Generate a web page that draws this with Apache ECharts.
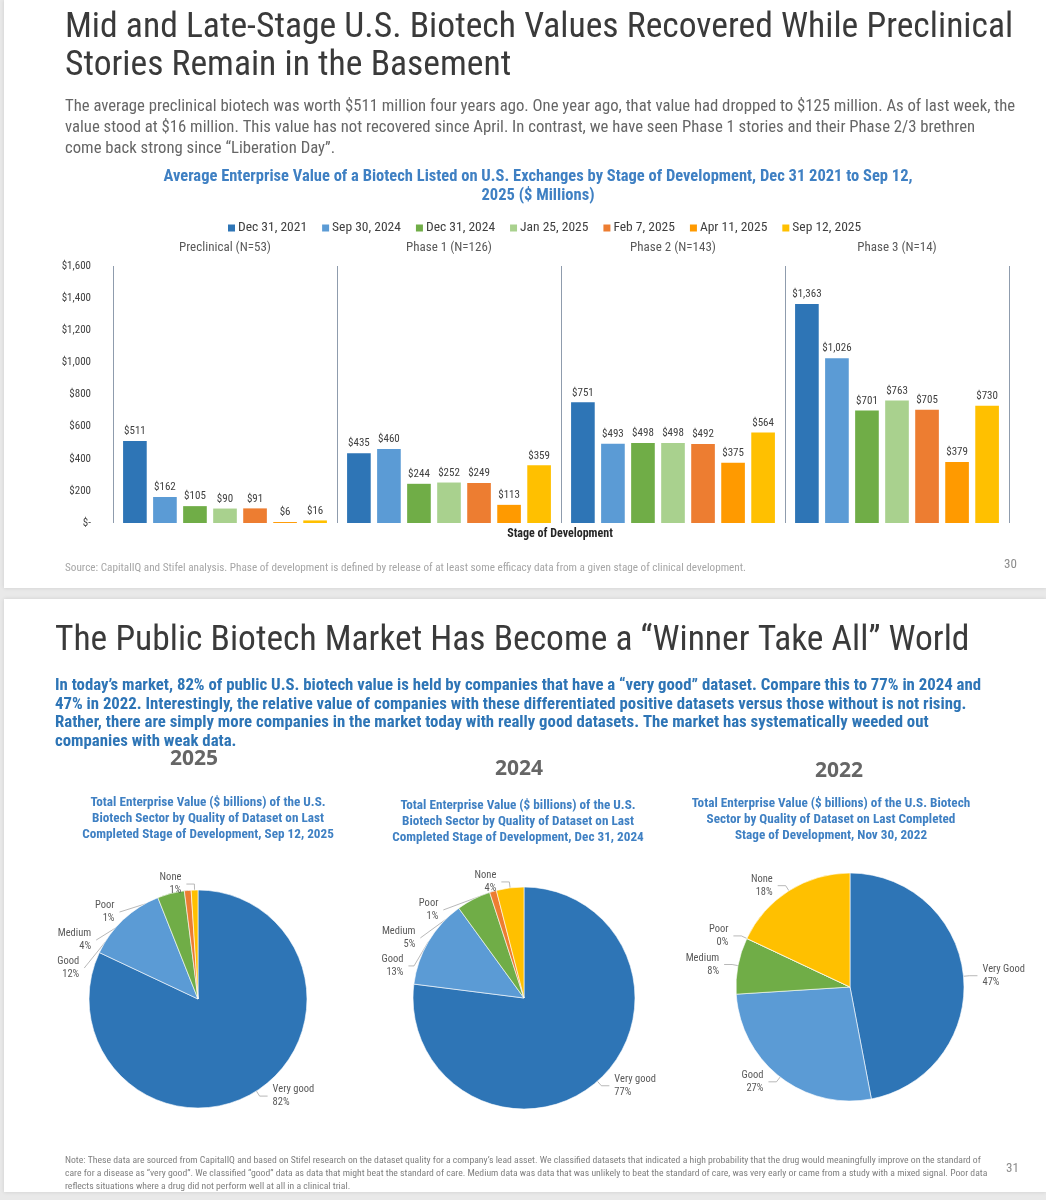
<!DOCTYPE html>
<html lang="en">
<head>
<meta charset="UTF-8">
<title>Biotech values</title>
<style>
  html, body { margin: 0; padding: 0; background: #e9e9e9; }
  #main { width: 1046px; height: 1200px; }
</style>
</head>
<body>
<div id="main"></div>
<script src="https://cdn.jsdelivr.net/npm/echarts@6/dist/echarts.min.js"></script>
<script>
// bar chart data
var stages = ['Preclinical (N=53)', 'Phase 1 (N=126)', 'Phase 2 (N=143)', 'Phase 3 (N=14)'];
var dates = ['Dec 31, 2021', 'Sep 30, 2024', 'Dec 31, 2024', 'Jan 25, 2025', 'Feb 7, 2025', 'Apr 11, 2025', 'Sep 12, 2025'];
var dec2021 = [511, 435, 751, 1363];
var sep2024 = [162, 460, 493, 1026];
var dec2024 = [105, 244, 498, 701];
var jan2025 = [90, 252, 498, 763];
var feb2025 = [91, 249, 492, 705];
var apr2025 = [6, 113, 375, 379];
var sep2025 = [16, 359, 564, 730];
var yTicks = [0, 200, 400, 600, 800, 1000, 1200, 1400, 1600];

// pie data (percent of total enterprise value)
var quality2025 = ['Very good', 'Good', 'Medium', 'Poor', 'None'];
var share2025 = [82, 12, 4, 1, 1];
var quality2024 = ['Very good', 'Good', 'Medium', 'Poor', 'None'];
var share2024 = [77, 13, 5, 1, 4];
var quality2022 = ['Very Good', 'Good', 'Medium', 'Poor', 'None'];
var share2022 = [47, 27, 8, 0, 18];

var barColors = ['#2e75b6', '#5b9bd5', '#70ad47', '#a9d18e', '#ed7d31', '#ff9a00', '#ffc000'];
var pieColors = ['#2e75b6', '#5b9bd5', '#70ad47', '#ed7d31', '#ffc000'];
var NARROW = "'Liberation Sans Narrow', 'Roboto Condensed', Roboto, sans-serif";

var chart = echarts.init(document.getElementById('main'));

// y is the vertical middle of the line
function txt(x, y, text, size, color, extra) {
  var st = {
    x: x, y: y, text: text, fontSize: size, fontFamily: NARROW,
    fill: color, align: 'left', verticalAlign: 'middle'
  };
  for (var k in extra) st[k] = extra[k];
  return { type: 'text', silent: true, style: st };
}

function money(v) {
  return v === 0 ? '$-' : '$' + v.toLocaleString('en-US');
}

var seriesData = [dec2021, sep2024, dec2024, jan2025, feb2025, apr2025, sep2025];
var barSeries = dates.map(function (d, i) {
  return {
    name: d,
    type: 'bar',
    data: seriesData[i],
    itemStyle: { color: barColors[i] },
    barGap: '27%',
    barCategoryGap: '9%',
    label: {
      show: true, position: 'top', distance: 4,
      fontFamily: NARROW, fontSize: 11, color: '#404040',
      formatter: function (p) { return money(p.value); }
    }
  };
});

function pieSeries(names, vals, center, radius) {
  return {
    type: 'pie',
    center: center,
    radius: radius,
    startAngle: 90,
    clockwise: true,
    avoidLabelOverlap: true,
    itemStyle: { borderColor: '#fff', borderWidth: 0.6 },
    label: {
      show: true, fontFamily: NARROW, fontSize: 10.5, color: '#595959',
      lineHeight: 13, align: 'center',
      formatter: function (p) { return p.name + '\n' + p.value + '%'; }
    },
    labelLine: { show: true, length: 6, length2: 8, lineStyle: { color: '#a6a6a6', width: 0.8 } },
    emphasis: { disabled: true },
    data: names.map(function (n, i) {
      return { name: n, value: vals[i], itemStyle: { color: pieColors[i] } };
    })
  };
}

var blue = '#2e75b6';
var titleBlue = '#3f80c3';
var graphics = [
  // slide cards
  { type: 'rect', silent: true, shape: { x: 4, y: 0, width: 1042, height: 588 }, style: { fill: '#fff', shadowBlur: 4, shadowColor: 'rgba(0,0,0,0.12)' } },
  { type: 'rect', silent: true, shape: { x: 4, y: 599, width: 1042, height: 593 }, style: { fill: '#fff', shadowBlur: 4, shadowColor: 'rgba(0,0,0,0.12)' } },

  // slide 1 texts
  txt(65, 28, 'Mid and Late-Stage U.S. Biotech Values Recovered While Preclinical', 35.6, '#3a3a3a'),
  txt(65, 66, 'Stories Remain in the Basement', 35.6, '#3a3a3a'),
  txt(65, 107, 'The average preclinical biotech was worth $511 million four years ago. One year ago, that value had dropped to $125 million. As of last week, the', 16.7, '#666'),
  txt(65, 128, 'value stood at $16 million. This value has not recovered since April. In contrast, we have seen Phase 1 stories and their Phase 2/3 brethren', 16.7, '#666'),
  txt(65, 149, 'come back strong since \u201cLiberation Day\u201d.', 16.7, '#666'),
  txt(538, 177, 'Average Enterprise Value of a Biotech Listed on U.S. Exchanges by Stage of Development, Dec 31 2021 to Sep 12,', 16.5, titleBlue, { align: 'center', fontWeight: 'bold' }),
  txt(538, 196, '2025 ($ Millions)', 16.5, titleBlue, { align: 'center', fontWeight: 'bold' }),
  txt(560, 534, 'Stage of Development', 12, '#262626', { align: 'center', fontWeight: 'bold' }),
  txt(65, 568, 'Source: CapitalIQ and Stifel analysis. Phase of development is defined by release of at least some efficacy data from a given stage of clinical development.', 11.2, '#a6a6a6'),
  txt(1004, 565, '30', 13, '#8c8c8c'),

  // slide 2 texts
  txt(55, 641, 'The Public Biotech Market Has Become a \u201cWinner Take All\u201d World', 35.5, '#3a3a3a'),
  txt(55, 686, 'In today\u2019s market, 82% of public U.S. biotech value is held by companies that have a \u201cvery good\u201d dataset. Compare this to 77% in 2024 and', 16.8, blue, { fontWeight: 'bold' }),
  txt(55, 705, '47% in 2022. Interestingly, the relative value of companies with these differentiated positive datasets versus those without is not rising.', 16.8, blue, { fontWeight: 'bold' }),
  txt(55, 723, 'Rather, there are simply more companies in the market today with really good datasets. The market has systematically weeded out', 16.8, blue, { fontWeight: 'bold' }),
  txt(55, 742, 'companies with weak data.', 16.8, blue, { fontWeight: 'bold' }),

  txt(194, 759, '2025', 21, '#666', { align: 'center', fontWeight: 'bold', fontFamily: "'Open Sans', sans-serif" }),
  txt(519, 769, '2024', 21, '#666', { align: 'center', fontWeight: 'bold', fontFamily: "'Open Sans', sans-serif" }),
  txt(839, 771, '2022', 21, '#666', { align: 'center', fontWeight: 'bold', fontFamily: "'Open Sans', sans-serif" }),

  txt(208, 803, 'Total Enterprise Value ($ billions) of the U.S.', 13.2, titleBlue, { align: 'center', fontWeight: 'bold' }),
  txt(208, 819, 'Biotech Sector by Quality of Dataset on Last', 13.2, titleBlue, { align: 'center', fontWeight: 'bold' }),
  txt(208, 835, 'Completed Stage of Development, Sep 12, 2025', 13.2, titleBlue, { align: 'center', fontWeight: 'bold' }),
  txt(518, 806, 'Total Enterprise Value ($ billions) of the U.S.', 13.2, titleBlue, { align: 'center', fontWeight: 'bold' }),
  txt(518, 822, 'Biotech Sector by Quality of Dataset on Last', 13.2, titleBlue, { align: 'center', fontWeight: 'bold' }),
  txt(518, 838, 'Completed Stage of Development, Dec 31, 2024', 13.2, titleBlue, { align: 'center', fontWeight: 'bold' }),
  txt(831, 804, 'Total Enterprise Value ($ billions) of the U.S. Biotech', 13.2, titleBlue, { align: 'center', fontWeight: 'bold' }),
  txt(831, 820, 'Sector by Quality of Dataset on Last Completed', 13.2, titleBlue, { align: 'center', fontWeight: 'bold' }),
  txt(831, 836, 'Stage of Development, Nov 30, 2022', 13.2, titleBlue, { align: 'center', fontWeight: 'bold' }),

  txt(65, 1161, 'Note: These data are sourced from CapitalIQ and based on Stifel research on the dataset quality for a company\u2019s lead asset. We classified datasets that indicated a high probability that the drug would meaningfully improve on the standard of', 9.7, '#7f7f7f'),
  txt(65, 1174, 'care for a disease as \u201cvery good\u201d. We classified \u201cgood\u201d data as data that might beat the standard of care. Medium data was data that was unlikely to beat the standard of care, was very early or came from a study with a mixed signal. Poor data', 9.7, '#7f7f7f'),
  txt(65, 1187, 'reflects situations where a drug did not perform well at all in a clinical trial.', 9.7, '#7f7f7f'),
  txt(1006, 1169, '31', 13, '#8c8c8c')
];

var option = {
  backgroundColor: '#e9e9e9',
  animation: false,
  graphic: { elements: graphics },
  legend: {
    data: dates,
    top: 216,
    left: 223,
    icon: 'rect',
    itemWidth: 7,
    itemHeight: 7,
    itemGap: 15,
    textStyle: { fontFamily: NARROW, fontSize: 13.5, color: '#404040', padding: [0, 0, 0, -2] },
    selectedMode: false
  },
  grid: {
    left: 113, top: 266, width: 896, height: 257,
    show: true, backgroundColor: '#dde8f5', borderWidth: 0
  },
  xAxis: {
    type: 'category',
    data: stages,
    position: 'top',
    axisLine: { show: false },
    axisTick: { show: false },
    axisLabel: { fontFamily: NARROW, fontSize: 13, color: '#595959', margin: 12 },
    splitLine: { show: true, interval: 0, lineStyle: { color: '#8f9cad', width: 1 } }
  },
  yAxis: {
    type: 'value',
    min: yTicks[0],
    max: yTicks[yTicks.length - 1],
    interval: yTicks[1] - yTicks[0],
    axisLine: { show: false },
    axisTick: { show: false },
    splitLine: { show: false },
    axisLabel: { fontFamily: NARROW, fontSize: 11, color: '#404040', margin: 22, formatter: money }
  },
  series: barSeries.concat([
    pieSeries(quality2025, share2025, [198, 999], 109),
    pieSeries(quality2024, share2024, [524, 998], 111),
    pieSeries(quality2022, share2022, [850, 987], 114)
  ])
};

chart.setOption(option);
</script>
</body>
</html>
